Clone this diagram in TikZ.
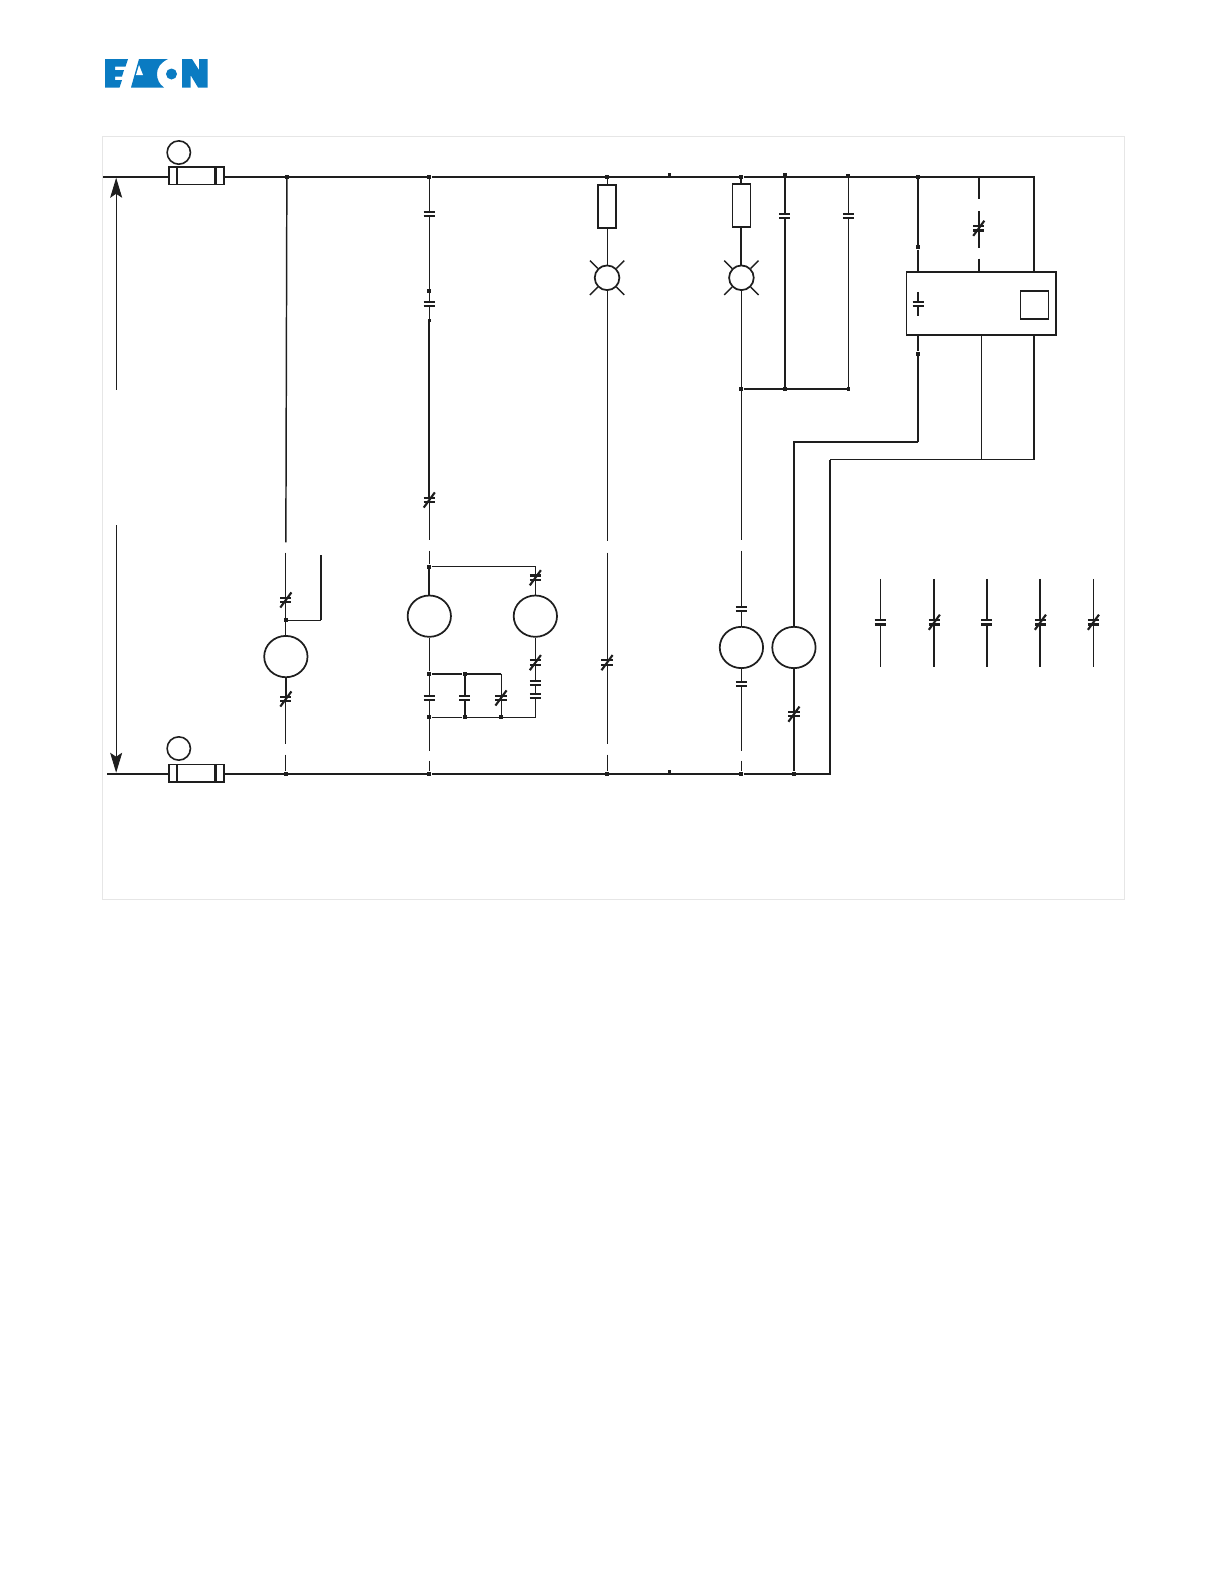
\documentclass[tikz,border=0pt]{standalone}
\usetikzlibrary{shapes.geometric,arrows.meta}
\definecolor{logoblue}{HTML}{0A7BC2}
\definecolor{framegray}{HTML}{E6E6E6}
\definecolor{inkblack}{HTML}{1E1E1E}
\tikzset{
  wthin/.style={line width=0.65pt,draw=inkblack},
  wmed/.style={line width=1.1pt,draw=inkblack},
  wthick/.style={line width=1.6pt,draw=inkblack},
  jn/.style={rectangle,fill=inkblack,inner sep=0pt,minimum size=3pt},
  coil/.style={ellipse,draw=inkblack,line width=1.3pt,fill=white,inner sep=0pt,minimum width=32.5pt,minimum height=31pt},
  nocont/.style={rectangle,inner sep=0pt,minimum width=8pt,minimum height=3pt,
    append after command={\pgfextra{\let\LN\tikzlastnode}
      (\LN.north west) edge[wthick] (\LN.north east)
      (\LN.south west) edge[wthick] (\LN.south east)}},
  nccont/.style={nocont,
    append after command={\pgfextra{\let\LN\tikzlastnode}
      ([shift={(-5.5,7.5)}]\LN.center) edge[wthick] ([shift={(5.5,-7.5)}]\LN.center)}},
  lampnode/.style={circle,draw=inkblack,line width=1.3pt,inner sep=0pt,minimum size=18.5pt,
    append after command={\pgfextra{\let\LN\tikzlastnode}
      (\LN.45) edge[wmed] ([shift={(17,-17)}]\LN.center)
      (\LN.135) edge[wmed] ([shift={(-17,-17)}]\LN.center)
      (\LN.225) edge[wmed] ([shift={(-17,17)}]\LN.center)
      (\LN.315) edge[wmed] ([shift={(17,17)}]\LN.center)}},
  fusenode/.style={rectangle,draw=inkblack,line width=1.2pt,inner sep=0pt,minimum width=41pt,minimum height=13pt,
    append after command={\pgfextra{\let\LN\tikzlastnode}
      ([xshift=6.8pt]\LN.north west) edge[wthick] ([xshift=6.8pt]\LN.south west)
      ([xshift=-6.8pt]\LN.north east) edge[wthick] ([xshift=-6.8pt]\LN.south east)}},
  tagnode/.style={circle,draw=inkblack,line width=1.2pt,inner sep=0pt,minimum size=17.5pt},
  resnode/.style={rectangle,draw=inkblack,line width=1.2pt,inner sep=0pt,minimum width=13.5pt,minimum height=32.5pt},
  pole/.style={-{Stealth[length=15pt,width=9pt,inset=3pt]},line width=0.7pt,draw=inkblack},
}
\begin{document}
\begin{tikzpicture}[x=0.7576pt,y=0.7576pt,yscale=-1,xscale=1]
\useasboundingbox (0,0) rectangle (1211.76,1568.16);

% logo
\begin{scope}[scale=0.99]
\fill[logoblue] (105,59) -- (128,59) -- (125.5,66.5) -- (115,66.5) -- (115,70) -- (124,70) -- (122,76.5) -- (115,76.5) -- (115,80) -- (122,80) -- (119.5,87.5) -- (105,87.5) -- cycle;
\fill[logoblue] (131,87.5) -- (139,59) -- (168,59) .. controls (160,63) and (157,68) .. (157,74) .. controls (157,79) and (159,84) .. (164,87.5) -- cycle;
\fill[white] (139,65) -- (143,75) -- (136,75) -- cycle;
\fill[logoblue] (171.5,74) circle [radius=5.5];
\fill[logoblue] (182,59) -- (192,59) -- (199,70) -- (199,59) -- (207.5,59) -- (207.5,87.5) -- (198,87.5) -- (190.5,75) -- (190.5,87.5) -- (182,87.5) -- cycle;
\end{scope}

\draw[framegray,line width=0.6pt] (101,135) rectangle (1113,890);

% left side
\node[tagnode] (tagt) at (177,151) {};
\node[tagnode] (tagb) at (177,741) {};
\node[fusenode] (fuset) at (194.5,174) {};
\node[fusenode] (fuseb) at (194.5,765.5) {};
\coordinate (busl) at (102,175);
\coordinate (busbl) at (106,766);
\coordinate (arrt) at (115,176);
\coordinate (arrtb) at (115,386);
\coordinate (arrb) at (115,765);
\coordinate (arrbb) at (115,520);
\draw[pole] (arrtb) -- (arrt);
\draw[pole] (arrbb) -- (arrb);

% top and bottom junctions
\foreach \n/\x in {1/284,2/425,3/601,4/734,5/909}
  \node[jn] (jt\n) at (\x,175) {};
\node[jn] (jt6) at (777,173) {};
\node[jn] (jt7) at (840,174) {};
\node[jn,minimum size=2.5pt] (dott) at (663,173) {};
\node[jn,minimum size=2.5pt] (dotb) at (663,764) {};
\foreach \n/\x in {1/283,2/425,3/601,4/734,5/786}
  \node[jn] (jb\n) at (\x,766) {};
\coordinate (cor1) at (1024,175);
\coordinate (cor2) at (822,766);
\coordinate (cor3) at (822,455);
\coordinate (cor4) at (1024,455);
\coordinate (cor5) at (972,455);

% box
\node[rectangle,draw=inkblack,line width=1.2pt,inner sep=0pt,minimum width=112pt,minimum height=47.5pt] (relbox) at (971.5,300.5) {};
\node[rectangle,draw=inkblack,line width=1.2pt,inner sep=0pt,minimum width=21pt,minimum height=21pt] (relsq) at (1024,302) {};
\node[nocont] (krel) at (909,301) {};
\coordinate (krela) at (909,289);
\coordinate (krelb) at (909,313);
\draw[wthick] (krela) -- (krel) -- (krelb);

\draw[wthick] (busl) -- (fuset.west |- busl) (fuset.east |- busl) -- (jt1) -- (jt2) -- (jt3) -- (jt4) -- (jt5) -- (cor1) -- (relbox.north -| cor1);
\draw[wthick] (busbl) -- (fuseb.west |- busbl) (fuseb.east |- busbl) -- (jb1) -- (jb2) -- (jb3) -- (jb4) -- (jb5) -- (cor2) -- (cor3);
\draw[wthin] (cor3) -- (cor5) -- (cor4);
\draw[wthick] (cor4) -- (relbox.south -| cor4);
\draw[wthin] (relbox.south -| cor5) -- (cor5);

% column 1
\coordinate (c1a) at (283,537);
\coordinate (c1b) at (283,547);
\coordinate (c1c) at (283,737);
\coordinate (c1d) at (283,747);
\coordinate (c1e) at (317.5,549);
\coordinate (c1f) at (317.5,614);
\node[nccont] (k1) at (283,594) {};
\node[jn] (j1) at (283,614) {};
\node[coil] (m1) at (283,650) {};
\node[nccont] (k2) at (283,692) {};
\draw[wmed] (jt1) -- (c1a);
\draw[wthin] (c1b) -- (k1) -- (j1) -- (m1);
\draw[wthick] (m1) -- (k2);
\draw[wthin] (k2) -- (c1c) (c1d) -- (jb1);
\draw[wthin] (j1) -- (c1f);
\draw[wthick] (c1f) -- (c1e);

% column 2
\coordinate (c2a) at (425,535);
\coordinate (c2b) at (425,545);
\coordinate (c2c) at (425,743);
\coordinate (c2d) at (425,753);
\node[nocont] (k3) at (425,212) {};
\node[jn] (j2) at (425,288) {};
\node[nocont] (k4) at (425,301) {};
\node[jn,minimum size=2pt] (j3) at (425,317) {};
\node[nccont] (k5) at (425,495) {};
\node[jn] (j4) at (425,561) {};
\node[coil] (m2) at (425,610) {};
\node[jn] (j5) at (425,667) {};
\node[nocont] (k6) at (425,691) {};
\node[jn] (j6) at (425,710) {};
\node[jn] (j7) at (460,667) {};
\node[nocont] (k7) at (460,691) {};
\node[jn] (j8) at (460,710) {};
\node[nccont] (k8) at (496,691) {};
\node[jn] (j9) at (496,710) {};
\coordinate (c2e) at (496,667);
\coordinate (c2f) at (530,561);
\coordinate (c2g) at (530,710);
\node[nccont] (k9) at (530,572) {};
\node[coil] (m3) at (530,610) {};
\node[nccont] (k10) at (530,656) {};
\node[nocont] (k11) at (530,676) {};
\node[nocont] (k12) at (530,689) {};
\draw[wthin] (jt2) -- (k3) -- (j2) -- (k4) -- (j3);
\draw[wthick] (j3) -- (k5);
\draw[wthin] (k5) -- (c2a) (c2b) -- (j4);
\draw[wthick] (j4) -- (m2);
\draw[wthin] (m2) -- (j5) -- (k6) -- (j6) -- (c2c) (c2d) -- (jb2);
\draw[wthick] (j5) -- (j7) -- (c2e);
\draw[wthick] (j7) -- (k7) -- (j8);
\draw[wthin] (c2e) -- (k8) -- (j9);
\draw[wthin] (j4) -- (c2f) -- (k9) -- (m3) -- (k10);
\draw[wthin] (k10) -- (k11) (k11) -- (k12) -- (c2g) -- (j9) -- (j8) -- (j6);

% column 3
\coordinate (c3a) at (601,536);
\coordinate (c3b) at (601,547);
\coordinate (c3c) at (601,737);
\coordinate (c3d) at (601,747);
\node[resnode] (r1) at (601,204.5) {};
\node[lampnode] (h1) at (601,275) {};
\node[nccont] (k13) at (601,656) {};
\draw[wthin] (jt3) -- (r1) -- (h1) -- (c3a) (c3b) -- (k13) -- (c3c) (c3d) -- (jb3);

% column 4
\coordinate (c4a) at (734,535);
\coordinate (c4b) at (734,545);
\coordinate (c4c) at (734,743);
\coordinate (c4d) at (734,753);
\node[resnode] (r2) at (734,203.5) {};
\node[lampnode] (h2) at (734,275) {};
\node[jn] (j10) at (734,385) {};
\node[nocont] (k14) at (734,603) {};
\node[coil] (m4) at (734,641) {};
\node[nocont] (k15) at (734,677) {};
\draw[wthick] (jt4) -- (r2) -- (h2);
\draw[wthin] (h2) -- (j10) -- (c4a) (c4b) -- (k14) -- (m4) -- (k15) -- (c4c) (c4d) -- (jb4);

% columns 5 and 6
\node[nocont] (k16) at (777,214) {};
\node[jn] (j11) at (777,385) {};
\node[nocont] (k17) at (840,214) {};
\node[jn,minimum size=2.5pt] (j12) at (840,385) {};
\draw[wthick] (jt6) -- (k16) -- (j11);
\draw[wthin] (jt7) -- (k17);
\draw[wmed] (k17) -- (j12);
\draw[wthick] (j10) -- (j11) -- (j12);

% relay outputs
\node[jn] (j13) at (909,245) {};
\node[jn] (j14) at (909,350) {};
\coordinate (c5a) at (909,438);
\coordinate (c5b) at (786,438);
\node[coil] (m5) at (786,641) {};
\node[nccont] (k18) at (786,707) {};
\draw[wmed] (jt5) -- (j13) -- (relbox.north -| j13);
\draw[wthick] (relbox.south -| j14) -- (j14);
\draw[wmed] (j14) -- (c5a);
\draw[wthick] (c5a) -- (c5b) -- (m5) (m5) -- (k18) -- (jb5);

% dashed link into box
\coordinate (c6t) at (969,175);
\coordinate (c6a) at (969,197);
\coordinate (c6b) at (969,209);
\coordinate (c6c) at (969,246);
\coordinate (c6d) at (969,256);
\node[nccont] (k19) at (969,226) {};
\draw[wthick] (c6t) -- (c6a) (c6b) -- (k19) -- (c6c) (c6d) -- (relbox.north -| c6d);

% legend contacts
\foreach \n/\x/\t/\w in {1/871.5/nocont/wthin,2/925/nccont/wthick,3/977/nocont/wthick,4/1030/nccont/wthick,5/1082.5/nccont/wthin}{
  \node[\t] (kl\n) at (\x,616) {};
  \coordinate (la\n) at (\x,573);
  \coordinate (lb\n) at (\x,660);
  \draw[\w] (la\n) -- (kl\n) -- (lb\n);
}
\end{tikzpicture}
\end{document}
